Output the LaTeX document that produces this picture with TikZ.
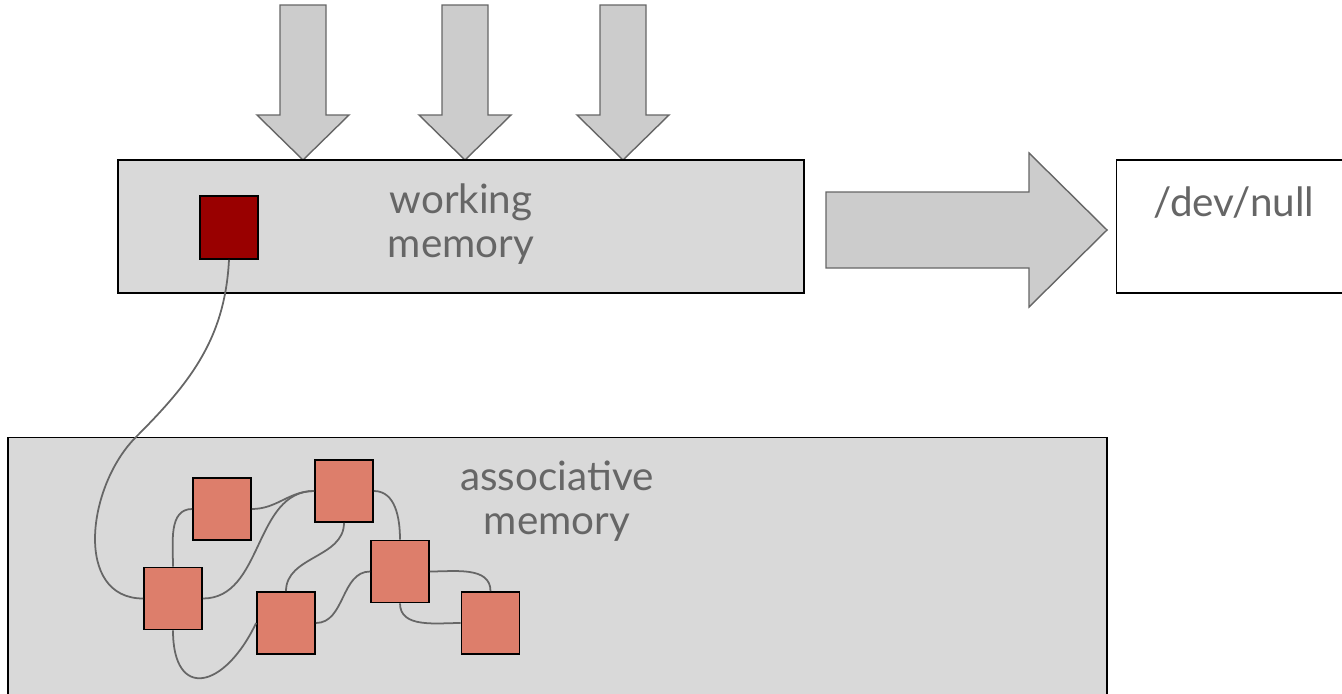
\documentclass[tikz,border=0pt]{standalone}
\usepackage{fontspec}
\setmainfont{Lato}
\usetikzlibrary{arrows.meta,positioning}
\definecolor{memfill}{HTML}{D9D9D9}
\definecolor{arrowfill}{HTML}{CCCCCC}
\definecolor{edgegray}{HTML}{666666}
\definecolor{labelgray}{HTML}{666666}
\definecolor{itemred}{HTML}{990000}
\definecolor{itemsalmon}{HTML}{DD7E6B}
\tikzset{
  membox/.style={draw=black, line width=0.8pt, fill=memfill, inner sep=0pt},
  sinkbox/.style={membox, fill=white},
  memlabel/.style={text=labelgray, align=center,
    font=\fontsize{23}{25}\selectfont},
  itembox/.style={draw=black, line width=1pt, fill=itemsalmon, inner sep=0pt,
    minimum width=1.16cm, minimum height=1.24cm},
  hotbox/.style={itembox, fill=itemred},
  blockarrow/.style={draw=edgegray, line width=0.8pt, fill=arrowfill},
  link/.style={draw=edgegray, line width=1pt}
}

\begin{document}
\begin{tikzpicture}[x=0.02cm, y=-0.02cm]
  \useasboundingbox (0,0) rectangle (1342,693);

  % incoming arrows
  \foreach \cx in {303,465,623} {
    \draw[blockarrow] (\cx-23,5) -- (\cx+23,5) -- (\cx+23,115) -- (\cx+46,115)
      -- (\cx,160) -- (\cx-46,115) -- (\cx-23,115) -- cycle;
  }

  % memories
  \node[membox, minimum width=13.72cm, minimum height=2.66cm] (wm) at (461,226.5) {};
  \node[memlabel] (wmtext) at (461,224) {working\\memory};
  \node[sinkbox, minimum width=4.7cm, minimum height=2.66cm] (null) at (1234,226.5) {};
  \node[memlabel] (nulltext) at (1234,203) {/dev/null};
  \node[membox, minimum width=21.98cm, minimum height=5.4cm, anchor=north] (am) at (557.5,437) {};
  \node[memlabel] (amtext) at (557,501) {associative\\memory};

  % outgoing arrow
  \draw[blockarrow] (826,192) -- (1029,192) -- (1029,153) -- (1107,230)
    -- (1029,307) -- (1029,268) -- (826,268) -- cycle;

  % items
  \node[hotbox, minimum height=1.26cm] (hot) at (229,227.5) {};
  \node[itembox] (a) at (222,509) {};
  \node[itembox] (b) at (344,491) {};
  \node[itembox] (c) at (173,598.5) {};
  \node[itembox] (d) at (286,623) {};
  \node[itembox] (e) at (400,571.5) {};
  \node[itembox] (f) at (490.5,623) {};

  % links
  \coordinate (bend) at (136,437);
  \draw[link] (hot.south) to[out=-93,in=45] (bend) to[out=-135,in=180,looseness=1.1] (c.west);
  \draw[link] (a.west) to[out=180,in=90] (c.north);
  \draw[link] (a.east) to[out=0,in=180] (b.west);
  \draw[link] (c.east) to[out=0,in=180] (b.west);
  \draw[link] (b.east) to[out=0,in=90] (e.north);
  \draw[link] (b.south) to[out=-90,in=90] (d.north);
  \draw[link] (c.south) .. controls +(0,70) and +(-32,67) .. (d.west);
  \draw[link] (d.east) to[out=0,in=180] (e.west);
  \draw[link] (e.east) to[out=0,in=90] (f.north);
  \draw[link] (e.south) to[out=-90,in=180] (f.west);
\end{tikzpicture}
\end{document}
